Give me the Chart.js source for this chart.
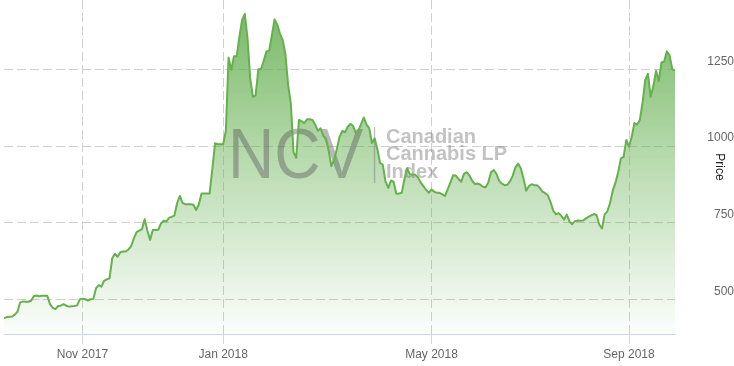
<!DOCTYPE html>
<html>
<head>
<meta charset="utf-8">
<script src="https://cdn.jsdelivr.net/npm/chart.js@4.4.1/dist/chart.umd.min.js"></script>
<style>
  html, body { margin: 0; padding: 0; background: #fff; }
  #wrap { width: 734px; height: 366px; position: relative; }
</style>
</head>
<body>
<div id="wrap"><canvas id="chart-ncv"></canvas></div>
<script>
(function () {
  "use strict";

  // daily closes, one per trading session
  var prices = [
    440, 444, 445, 446, 452, 462, 492, 495, 494, 494,
    497, 512, 514, 512, 513, 513, 513, 486, 474, 470,
    480, 481, 486, 481, 478, 479, 480, 482, 501, 504,
    502, 498, 502, 503, 537, 548, 543, 562, 567, 570,
    635, 650, 640, 655, 657, 657, 664, 675, 700, 720,
    725, 730, 762, 725, 695, 727, 727, 728, 748, 757,
    755, 767, 770, 775, 815, 838, 815, 811, 811, 811,
    809, 792, 810, 846, 846, 846, 846, 925, 1009, 1006,
    1006, 1006, 1050, 1288, 1247, 1292, 1292, 1355, 1410, 1430,
    1350, 1220, 1160, 1165, 1250, 1250, 1278, 1308, 1310, 1360,
    1412, 1395, 1366, 1345, 1300, 1200, 1140, 980, 962, 1085,
    1080, 1075, 1087, 1087, 1085, 1070, 1050, 1058, 1033, 1025,
    985, 935, 955, 990, 1030, 1049, 1045, 1062, 1072, 1066,
    1043, 1050, 1072, 1093, 1070, 1058, 1010, 1025, 990, 945,
    940, 885, 864, 888, 884, 845, 846, 848, 892, 928,
    908, 908, 907, 898, 882, 870, 858, 848, 859, 852,
    848, 848, 843, 838, 860, 882, 905, 904, 893, 884,
    910, 915, 905, 888, 877, 878, 875, 868, 866, 882,
    915, 922, 910, 887, 878, 873, 874, 885, 903, 930,
    943, 928, 895, 855, 870, 876, 873, 873, 864, 852,
    847, 840, 818, 790, 778, 782, 773, 761, 777, 755,
    746, 756, 758, 757, 758, 764, 770, 775, 779, 776,
    745, 732, 778, 788, 815, 855, 881, 915, 960, 965,
    1020, 998, 1030, 1075, 1070, 1085, 1140, 1215, 1235, 1160,
    1195, 1245, 1212, 1272, 1275, 1308, 1295, 1250, 1245
  ];

  // session index of the first trading day of each labelled month
  var monthSessions = [29, 81, 158, 231];
  var monthLabels = ["Nov 2017", "Jan 2018", "May 2018", "Sep 2018"];

  var priceTicks = [500, 750, 1000, 1250];

  var lineColor = "#66b04e";
  var gridColor = "#cfcfcf";
  var font = "'Liberation Sans', Arial, sans-serif";
  var gridDash = [9, 4];

  var points = prices.map(function (p, i) {
    return { x: i, y: p };
  });

  function areaFill(context) {
    var area = context.chart.chartArea;
    if (!area) {
      return "rgba(104,178,84,0.4)";
    }
    var g = context.chart.ctx.createLinearGradient(0, area.top, 0, area.bottom);
    g.addColorStop(0, "rgba(104,178,84,0.92)");
    g.addColorStop(0.5, "rgba(104,178,84,0.45)");
    g.addColorStop(1, "rgba(104,178,84,0.02)");
    return g;
  }

  // dashed month lines, taken from the x scale's own ticks
  var monthLines = {
    id: "monthLines",
    beforeDraw: function (chart) {
      var ctx = chart.ctx;
      var area = chart.chartArea;
      var xs = chart.scales.x;
      ctx.save();
      ctx.strokeStyle = gridColor;
      ctx.lineWidth = 1;
      ctx.setLineDash(gridDash);
      xs.ticks.forEach(function (t) {
        var px = Math.round(xs.getPixelForValue(t.value)) + 0.5;
        ctx.beginPath();
        ctx.moveTo(px, area.top);
        ctx.lineTo(px, area.bottom);
        ctx.stroke();
      });
      ctx.restore();
    }
  };

  var watermark = {
    id: "watermark",
    beforeDatasetsDraw: function (chart) {
      var ctx = chart.ctx;
      ctx.save();
      ctx.textBaseline = "alphabetic";
      ctx.textAlign = "left";

      ctx.fillStyle = "rgba(85,85,85,0.42)";
      ctx.font = "70px " + font;
      ctx.translate(228, 178);
      ctx.scale(0.915, 1);
      ctx.fillText("NCV", 0, 0);
      ctx.setTransform(1, 0, 0, 1, 0, 0);

      ctx.strokeStyle = "rgba(120,120,120,0.45)";
      ctx.lineWidth = 1.5;
      ctx.beginPath();
      ctx.moveTo(374.5, 127);
      ctx.lineTo(374.5, 183);
      ctx.stroke();

      ctx.fillStyle = "rgba(120,120,120,0.45)";
      ctx.font = "bold 20px " + font;
      ctx.fillText("Canadian", 386, 142.5);
      ctx.fillText("Cannabis LP", 386, 160);
      ctx.fillText("Index", 386, 178);
      ctx.restore();
    }
  };

  new Chart(document.getElementById("chart-ncv"), {
    type: "line",
    data: {
      datasets: [
        {
          label: "Price",
          data: points,
          borderColor: lineColor,
          borderWidth: 2,
          backgroundColor: areaFill,
          fill: "start",
          tension: 0,
          pointRadius: 0,
          borderJoinStyle: "round",
        },
      ],
    },
    options: {
      responsive: true,
      maintainAspectRatio: false,
      animation: false,
      layout: { padding: { left: 4, top: 0, right: 0, bottom: 0 } },
      plugins: {
        legend: { display: false },
        tooltip: { enabled: false },
        filler: { drawTime: "beforeDatasetsDraw" },
      },
      scales: {
        x: {
          type: "linear",
          min: 0,
          max: prices.length - 1,
          afterBuildTicks: function (scale) {
            scale.ticks = monthSessions.map(function (s) {
              return { value: s };
            });
          },
          afterFit: function (scale) {
            scale.height = 32;
          },
          ticks: {
            color: "#666",
            font: { family: font, size: 12 },
            padding: 3,
            maxRotation: 0,
            autoSkip: false,
            callback: function (value) {
              var i = monthSessions.indexOf(value);
              return i >= 0 ? monthLabels[i] : "";
            },
          },
          grid: {
            color: gridColor,
            lineWidth: 1,
            drawOnChartArea: false,
            drawTicks: true,
            tickLength: 10,
            tickColor: "#ccd6eb",
            tickBorderDash: [],
          },
          border: { display: true, color: "#ccd6eb", width: 1 },
        },
        y: {
          position: "right",
          min: 389,
          max: 1475,
          afterBuildTicks: function (scale) {
            scale.ticks = priceTicks.map(function (v) {
              return { value: v };
            });
          },
          afterFit: function (scale) {
            scale.width = 59;
            scale.paddingTop = 0;
            scale.paddingBottom = 0;
          },
          ticks: {
            color: "#666",
            font: { family: font, size: 12 },
            padding: 31,
            crossAlign: "far",
            labelOffset: -8,
            callback: function (value) {
              return String(value);
            },
          },
          grid: {
            color: gridColor,
            lineWidth: 1,
            drawTicks: false,
          },
          border: { display: false, dash: gridDash },
          title: {
            display: true,
            text: "Price",
            color: "#222",
            font: { family: font, size: 12 },
            padding: { top: 7, bottom: 0 },
          },
        },
      },
    },
    plugins: [monthLines, watermark],
  });
})();
</script>
</body>
</html>
